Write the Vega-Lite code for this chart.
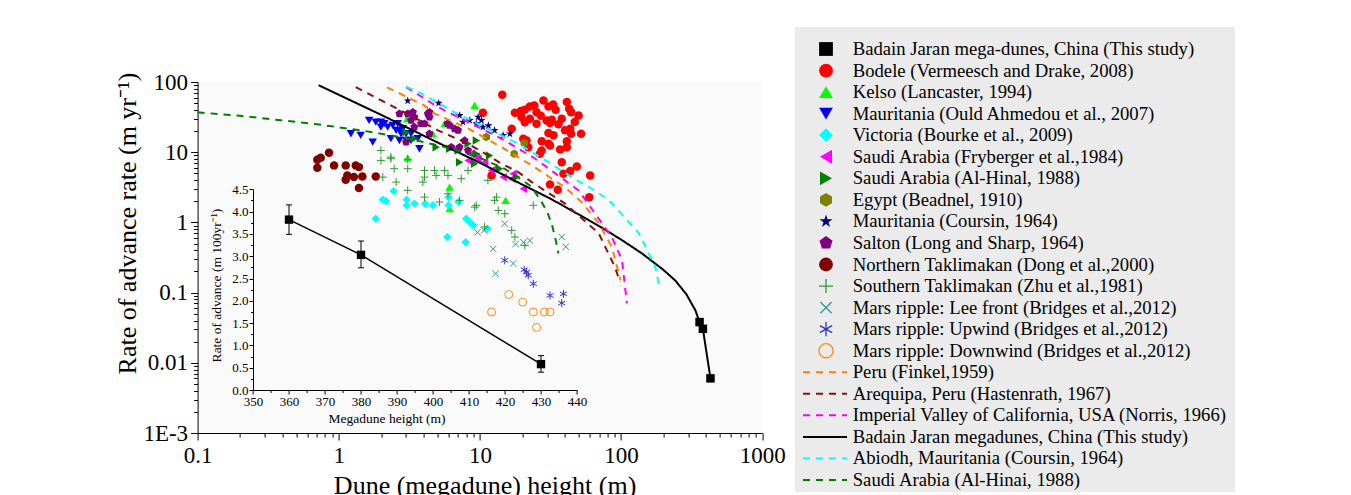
{
"$schema": "https://vega.github.io/schema/vega-lite/v6.json",
"autosize": {"type": "none"},
"padding": {"left": 197.6, "top": 82, "right": 588.8, "bottom": 62},
"width": 564.6,
"height": 351,
"background": "white",
"config": {
  "view": {"stroke": null, "fill": "#fafafa"},
  "font": "Liberation Serif",
  "axis": {"grid": false, "domainColor": "#000000", "tickColor": "#000000", "labelColor": "#000000", "titleColor": "#000000", "titleFontWeight": "normal", "labelFont": "Liberation Serif", "titleFont": "Liberation Serif", "zindex": 1, "labelOverlap": false, "labelFlush": false, "labelBound": false, "domainWidth": 1, "tickWidth": 1}
},
"datasets": {
  "pts": [
    {"s":"BJ","h":360,"r":0.038},{"s":"BJ","h":380,"r":0.0305},{"s":"BJ","h":430,"r":0.006},
    {"s":"Bodele","h":14.4,"r":65.9},{"s":"Bodele","h":17.7,"r":36.5},{"s":"Bodele","h":19.5,"r":38.5},{"s":"Bodele","h":20.8,"r":40.3},{"s":"Bodele","h":22.6,"r":44.9},{"s":"Bodele","h":24.3,"r":46.4},{"s":"Bodele","h":25.2,"r":37.2},{"s":"Bodele","h":28.2,"r":54.7},{"s":"Bodele","h":30.6,"r":44.9},{"s":"Bodele","h":34.4,"r":40.3},{"s":"Bodele","h":41.3,"r":51.7},{"s":"Bodele","h":42.9,"r":41.7},{"s":"Bodele","h":50,"r":33.4},{"s":"Bodele","h":44.3,"r":37.2},{"s":"Bodele","h":19.7,"r":31.6},{"s":"Bodele","h":20.8,"r":26.8},{"s":"Bodele","h":22.6,"r":30},{"s":"Bodele","h":25.2,"r":25.5},{"s":"Bodele","h":29.7,"r":28.4},{"s":"Bodele","h":32.3,"r":29},{"s":"Bodele","h":38,"r":30},{"s":"Bodele","h":40.1,"r":20.5},{"s":"Bodele","h":43.6,"r":21.6},{"s":"Bodele","h":44.3,"r":18.3},{"s":"Bodele","h":52.1,"r":18.3},{"s":"Bodele","h":30.6,"r":18.7},{"s":"Bodele","h":33.2,"r":17.4},{"s":"Bodele","h":27.4,"r":14.3},{"s":"Bodele","h":30.6,"r":13.2},{"s":"Bodele","h":41.3,"r":14.3},{"s":"Bodele","h":41.3,"r":11.8},{"s":"Bodele","h":37,"r":10.9},{"s":"Bodele","h":27.4,"r":10.6},{"s":"Bodele","h":26.6,"r":9.52},{"s":"Bodele","h":22,"r":11.8},{"s":"Bodele","h":20.3,"r":15.6},{"s":"Bodele","h":21.4,"r":14.7},{"s":"Bodele","h":38,"r":7.2},{"s":"Bodele","h":48.6,"r":6.28},{"s":"Bodele","h":43.6,"r":5.38},{"s":"Bodele","h":60.4,"r":4.67},{"s":"Bodele","h":39.1,"r":4.94},{"s":"Bodele","h":31.4,"r":3.48},{"s":"Bodele","h":35.6,"r":2.92},{"s":"Bodele","h":59.5,"r":2.29},{"s":"Bodele","h":31.4,"r":12.5},{"s":"Bodele","h":16.8,"r":21.6},{"s":"Bodele","h":10.5,"r":36.5},{"s":"Bodele","h":12.1,"r":4.67},{"s":"Bodele","h":36,"r":25},{"s":"Bodele","h":47,"r":27},{"s":"Bodele","h":27,"r":33},{"s":"Bodele","h":33,"r":48},{"s":"Bodele","h":31.4,"r":26.1},
    {"s":"Kelso","h":9.17,"r":46.4},{"s":"Kelso","h":5.62,"r":25.5},{"s":"Kelso","h":4.64,"r":18.3},{"s":"Kelso","h":3.08,"r":8.3},{"s":"Kelso","h":6.1,"r":3.18},{"s":"Kelso","h":6.1,"r":1.57},{"s":"Kelso","h":15.2,"r":2.06},{"s":"Kelso","h":3.05,"r":30},
    {"s":"MauOA","h":1.64,"r":28.4},{"s":"MauOA","h":1.83,"r":26.8},{"s":"MauOA","h":1.99,"r":26.8},{"s":"MauOA","h":2.1,"r":25.5},{"s":"MauOA","h":2.22,"r":22.8},{"s":"MauOA","h":2.41,"r":24.1},{"s":"MauOA","h":2.62,"r":25.5},{"s":"MauOA","h":2.69,"r":20.5},{"s":"MauOA","h":2.84,"r":21.6},{"s":"MauOA","h":3.0,"r":18.3},{"s":"MauOA","h":3.25,"r":18.3},{"s":"MauOA","h":1.22,"r":18.3},{"s":"MauOA","h":1.43,"r":17.4},{"s":"MauOA","h":1.74,"r":13.9},{"s":"MauOA","h":2.34,"r":15.6},{"s":"MauOA","h":2.69,"r":14.7},{"s":"MauOA","h":3.0,"r":14.7},{"s":"MauOA","h":3.63,"r":15.6},{"s":"MauOA","h":3.73,"r":11.2},{"s":"MauOA","h":1.99,"r":22.8},{"s":"MauOA","h":2.55,"r":20.5},{"s":"MauOA","h":3.25,"r":14.7},{"s":"MauOA","h":2.76,"r":18.3},
    {"s":"Victoria","h":2.05,"r":2.11},{"s":"Victoria","h":2.16,"r":2.01},{"s":"Victoria","h":2.45,"r":2.79},{"s":"Victoria","h":3.03,"r":2.11},{"s":"Victoria","h":3.03,"r":1.75},{"s":"Victoria","h":1.83,"r":1.13},{"s":"Victoria","h":3.44,"r":1.85},{"s":"Victoria","h":4.1,"r":1.85},{"s":"Victoria","h":4.65,"r":1.75},{"s":"Victoria","h":5.87,"r":0.62},{"s":"Victoria","h":6.0,"r":2.29},{"s":"Victoria","h":6.0,"r":1.75},{"s":"Victoria","h":7.06,"r":1.95},{"s":"Victoria","h":8.0,"r":1.13},{"s":"Victoria","h":8.46,"r":1.01},{"s":"Victoria","h":8.95,"r":0.91},{"s":"Victoria","h":11.3,"r":0.81},{"s":"Victoria","h":7.92,"r":0.52},
    {"s":"SaudiF","h":8.24,"r":7.64},{"s":"SaudiF","h":9.71,"r":8.08},{"s":"SaudiF","h":10.8,"r":7.2},{"s":"SaudiF","h":12.7,"r":5.82},{"s":"SaudiF","h":14.6,"r":4.42},{"s":"SaudiF","h":16.8,"r":4.19},{"s":"SaudiF","h":17.2,"r":4.94},{"s":"SaudiF","h":8.7,"r":9.52},{"s":"SaudiF","h":12.1,"r":5.5},{"s":"SaudiF","h":20.3,"r":3.02},{"s":"SaudiF","h":9.44,"r":8.5},
    {"s":"SaudiAH","h":3.0,"r":19.3},{"s":"SaudiAH","h":3.43,"r":15.6},{"s":"SaudiAH","h":4.9,"r":11.8},{"s":"SaudiAH","h":6.1,"r":11.2},{"s":"SaudiAH","h":7.0,"r":10.6},{"s":"SaudiAH","h":7.18,"r":7.2},{"s":"SaudiAH","h":8.24,"r":13.2},{"s":"SaudiAH","h":9.44,"r":9.52},{"s":"SaudiAH","h":9.17,"r":6.86},{"s":"SaudiAH","h":9.44,"r":14.7},{"s":"SaudiAH","h":11.7,"r":9.0},{"s":"SaudiAH","h":13.8,"r":5.82},{"s":"SaudiAH","h":18.2,"r":4.42},
    {"s":"Egypt","h":11.1,"r":16.4},{"s":"Egypt","h":20.6,"r":13.5},{"s":"Egypt","h":17.5,"r":9.5},
    {"s":"MauC","h":3.08,"r":54},{"s":"MauC","h":5.1,"r":50},{"s":"MauC","h":7.18,"r":33.4},{"s":"MauC","h":7.59,"r":26.8},{"s":"MauC","h":8.46,"r":28.4},{"s":"MauC","h":9.44,"r":25.5},{"s":"MauC","h":9.71,"r":31.6},{"s":"MauC","h":10.25,"r":28.4},{"s":"MauC","h":10.5,"r":22.8},{"s":"MauC","h":12.7,"r":20.5},{"s":"MauC","h":14.6,"r":17.4},{"s":"MauC","h":16.3,"r":18.3},{"s":"MauC","h":11.5,"r":24},
    {"s":"Salton","h":2.69,"r":35.3},{"s":"Salton","h":3.08,"r":35.3},{"s":"Salton","h":3.35,"r":37.2},{"s":"Salton","h":3.43,"r":31.6},{"s":"Salton","h":3.25,"r":28.4},{"s":"Salton","h":3.43,"r":22.8},{"s":"Salton","h":4.28,"r":35.3},{"s":"Salton","h":4.39,"r":31.6},{"s":"Salton","h":4.05,"r":25.5},{"s":"Salton","h":4.39,"r":18.3},{"s":"Salton","h":3.0,"r":13.9},{"s":"Salton","h":4.39,"r":37.2},{"s":"Salton","h":3.83,"r":25.5},{"s":"Salton","h":6.1,"r":24.1},{"s":"Salton","h":6.62,"r":21.6},{"s":"Salton","h":7.0,"r":20.5},{"s":"Salton","h":7.18,"r":11.8},{"s":"Salton","h":8.24,"r":10.6},{"s":"Salton","h":6.27,"r":11.8},{"s":"Salton","h":7.8,"r":14.7},{"s":"Salton","h":5.9,"r":25.5},
    {"s":"NTak","h":0.853,"r":9.84},{"s":"NTak","h":0.745,"r":8.33},{"s":"NTak","h":0.705,"r":7.82},{"s":"NTak","h":0.705,"r":6.01},{"s":"NTak","h":0.926,"r":6.49},{"s":"NTak","h":1.12,"r":6.49},{"s":"NTak","h":1.32,"r":6.49},{"s":"NTak","h":1.39,"r":6.13},{"s":"NTak","h":1.15,"r":4.67},{"s":"NTak","h":1.28,"r":4.42},{"s":"NTak","h":1.47,"r":4.52},{"s":"NTak","h":1.83,"r":4.52},{"s":"NTak","h":1.39,"r":3.08},{"s":"NTak","h":1.12,"r":4.06},
    {"s":"STak","h":1.99,"r":10.6},{"s":"STak","h":1.99,"r":7.64},{"s":"STak","h":2.34,"r":8.08},{"s":"STak","h":2.47,"r":5.82},{"s":"STak","h":3.08,"r":5.82},{"s":"STak","h":4.05,"r":5.5},{"s":"STak","h":4.77,"r":5.5},{"s":"STak","h":5.62,"r":5.5},{"s":"STak","h":5.94,"r":4.67},{"s":"STak","h":7.38,"r":4.19},{"s":"STak","h":4.05,"r":4.42},{"s":"STak","h":2.05,"r":4.42},{"s":"STak","h":2.55,"r":3.75},{"s":"STak","h":3.08,"r":2.86},{"s":"STak","h":4.05,"r":2.29},{"s":"STak","h":2.34,"r":8.5},{"s":"STak","h":5.94,"r":2.56},{"s":"STak","h":4.9,"r":4.67},{"s":"STak","h":8.24,"r":5.5},{"s":"STak","h":11.4,"r":3.97},{"s":"STak","h":5.17,"r":1.95},{"s":"STak","h":7.18,"r":2.06},{"s":"STak","h":9.19,"r":1.65},{"s":"STak","h":12.7,"r":2.06},{"s":"STak","h":13.5,"r":1.48},{"s":"STak","h":15.0,"r":1.33},{"s":"STak","h":10.8,"r":0.86},{"s":"STak","h":16.8,"r":0.77},{"s":"STak","h":23.9,"r":1.75},{"s":"STak","h":17.7,"r":0.62},{"s":"STak","h":20.8,"r":0.47},{"s":"STak","h":9.44,"r":1.75},{"s":"STak","h":13.1,"r":2.29},{"s":"STak","h":3.94,"r":3.75},{"s":"STak","h":3.08,"r":7.9},
    {"s":"MarsLee","h":10.7,"r":0.77},{"s":"MarsLee","h":12.4,"r":0.42},{"s":"MarsLee","h":12.9,"r":0.186},{"s":"MarsLee","h":15.0,"r":0.96},{"s":"MarsLee","h":17.2,"r":0.26},{"s":"MarsLee","h":17.9,"r":0.49},{"s":"MarsLee","h":20.3,"r":0.52},{"s":"MarsLee","h":22.6,"r":0.55},{"s":"MarsLee","h":38.0,"r":0.62},{"s":"MarsLee","h":40.6,"r":0.45},{"s":"MarsLee","h":9.6,"r":0.72},
    {"s":"MarsUp","h":15.0,"r":0.288},{"s":"MarsUp","h":20.6,"r":0.212},{"s":"MarsUp","h":21.4,"r":0.196},{"s":"MarsUp","h":22.0,"r":0.176},{"s":"MarsUp","h":23.9,"r":0.134},{"s":"MarsUp","h":31.4,"r":0.091},{"s":"MarsUp","h":39.1,"r":0.096},{"s":"MarsUp","h":38.0,"r":0.071},
    {"s":"MarsDown","h":12.1,"r":0.053},{"s":"MarsDown","h":16.0,"r":0.094},{"s":"MarsDown","h":20.1,"r":0.073},{"s":"MarsDown","h":23.9,"r":0.053},{"s":"MarsDown","h":25.2,"r":0.032},{"s":"MarsDown","h":28.6,"r":0.053},{"s":"MarsDown","h":31.4,"r":0.053}
  ],
  "curves": [
    {"c":"BJline","h":0.72,"r":90},{"c":"BJline","h":2,"r":34},{"c":"BJline","h":5,"r":13.8},{"c":"BJline","h":10.25,"r":6.9},{"c":"BJline","h":20,"r":3.45},{"c":"BJline","h":32,"r":2.15},{"c":"BJline","h":50,"r":1.3},{"c":"BJline","h":73,"r":0.84},{"c":"BJline","h":100,"r":0.57},{"c":"BJline","h":141,"r":0.36},{"c":"BJline","h":200,"r":0.21},{"c":"BJline","h":242,"r":0.149},{"c":"BJline","h":290,"r":0.095},{"c":"BJline","h":336,"r":0.056},{"c":"BJline","h":360,"r":0.038},{"c":"BJline","h":380,"r":0.0305},{"c":"BJline","h":430,"r":0.006},
    {"c":"Peru","h":2.2,"r":84},{"c":"Peru","h":4.03,"r":46.4},{"c":"Peru","h":4.74,"r":35.7},{"c":"Peru","h":8.24,"r":21.8},{"c":"Peru","h":14.2,"r":11.8},{"c":"Peru","h":23.3,"r":6.49},{"c":"Peru","h":39.9,"r":3.18},{"c":"Peru","h":52.7,"r":1.94},{"c":"Peru","h":70,"r":0.95},{"c":"Peru","h":86.3,"r":0.44},{"c":"Peru","h":96.3,"r":0.188},{"c":"Peru","h":99,"r":0.15},
    {"c":"Arequipa","h":1.32,"r":84.6},{"c":"Arequipa","h":2.34,"r":46.4},{"c":"Arequipa","h":2.9,"r":37.2},{"c":"Arequipa","h":5.04,"r":20.5},{"c":"Arequipa","h":8.24,"r":13.2},{"c":"Arequipa","h":11.43,"r":9.0},{"c":"Arequipa","h":14.2,"r":6.86},{"c":"Arequipa","h":18.7,"r":5.21},{"c":"Arequipa","h":23.3,"r":3.75},{"c":"Arequipa","h":39.9,"r":1.87},{"c":"Arequipa","h":69.4,"r":0.7},{"c":"Arequipa","h":90.6,"r":0.23},{"c":"Arequipa","h":98.4,"r":0.141},
    {"c":"Imperial","h":3.0,"r":84.6},{"c":"Imperial","h":5.04,"r":44},{"c":"Imperial","h":8.7,"r":25.5},{"c":"Imperial","h":14.2,"r":15.6},{"c":"Imperial","h":24.4,"r":8.2},{"c":"Imperial","h":50,"r":2.86},{"c":"Imperial","h":86.3,"r":0.61},{"c":"Imperial","h":101.6,"r":0.29},{"c":"Imperial","h":110,"r":0.07},
    {"c":"Abiodh","h":3.0,"r":86},{"c":"Abiodh","h":3.83,"r":68.9},{"c":"Abiodh","h":6.58,"r":37.2},{"c":"Abiodh","h":10.77,"r":22.8},{"c":"Abiodh","h":18.7,"r":13.2},{"c":"Abiodh","h":30.6,"r":7.2},{"c":"Abiodh","h":48.6,"r":3.97},{"c":"Abiodh","h":65.3,"r":2.86},{"c":"Abiodh","h":86.3,"r":1.87},{"c":"Abiodh","h":134,"r":0.7},{"c":"Abiodh","h":175,"r":0.23},{"c":"Abiodh","h":186,"r":0.127},
    {"c":"SaudiAHi","h":0.1,"r":37},{"c":"SaudiAHi","h":0.2,"r":33},{"c":"SaudiAHi","h":0.39,"r":28.5},{"c":"SaudiAHi","h":0.7,"r":25},{"c":"SaudiAHi","h":1.43,"r":20.5},{"c":"SaudiAHi","h":3,"r":15.9},{"c":"SaudiAHi","h":6,"r":11.5},{"c":"SaudiAHi","h":10,"r":8.3},{"c":"SaudiAHi","h":15,"r":5.8},{"c":"SaudiAHi","h":20,"r":4.0},{"c":"SaudiAHi","h":23.3,"r":3.2},{"c":"SaudiAHi","h":27.4,"r":1.95},{"c":"SaudiAHi","h":30,"r":1.4},{"c":"SaudiAHi","h":32.3,"r":0.95},{"c":"SaudiAHi","h":34.5,"r":0.55},{"c":"SaudiAHi","h":36,"r":0.36}
  ],
  "ins": [
    {"h":360,"r":3.82,"lo":3.49,"hi":4.15},
    {"h":380,"r":3.03,"lo":2.74,"hi":3.34},
    {"h":430,"r":0.58,"lo":0.4,"hi":0.77}
  ],
  "leg": [
    {"row":0,"s":"BJ","label":"Badain Jaran mega-dunes, China (This study)"},
    {"row":1,"s":"Bodele","label":"Bodele (Vermeesch and Drake, 2008)"},
    {"row":2,"s":"Kelso","label":"Kelso (Lancaster, 1994)"},
    {"row":3,"s":"MauOA","label":"Mauritania (Ould Ahmedou et al., 2007)"},
    {"row":4,"s":"Victoria","label":"Victoria (Bourke et al., 2009)"},
    {"row":5,"s":"SaudiF","label":"Saudi Arabia (Fryberger et al.,1984)"},
    {"row":6,"s":"SaudiAH","label":"Saudi Arabia (Al-Hinal, 1988)"},
    {"row":7,"s":"Egypt","label":"Egypt (Beadnel, 1910)"},
    {"row":8,"s":"MauC","label":"Mauritania (Coursin, 1964)"},
    {"row":9,"s":"Salton","label":"Salton (Long and Sharp, 1964)"},
    {"row":10,"s":"NTak","label":"Northern Taklimakan (Dong et al.,2000)"},
    {"row":11,"s":"STak","label":"Southern Taklimakan (Zhu et al.,1981)"},
    {"row":12,"s":"MarsLee","label":"Mars ripple: Lee front (Bridges et al.,2012)"},
    {"row":13,"s":"MarsUp","label":"Mars ripple: Upwind (Bridges et al.,2012)"},
    {"row":14,"s":"MarsDown","label":"Mars ripple: Downwind (Bridges et al.,2012)"},
    {"row":15,"c":"Peru","label":"Peru (Finkel,1959)"},
    {"row":16,"c":"Arequipa","label":"Arequipa, Peru (Hastenrath, 1967)"},
    {"row":17,"c":"Imperial","label":"Imperial Valley of California, USA (Norris, 1966)"},
    {"row":18,"c":"BJline","label":"Badain Jaran megadunes, China (This study)"},
    {"row":19,"c":"Abiodh","label":"Abiodh, Mauritania (Coursin, 1964)"},
    {"row":20,"c":"SaudiAHi","label":"Saudi Arabia (Al-Hinai, 1988)"}
  ]
},
"layer": [
  {
    "layer": [
      {
        "data": {"name": "pts"},
        "transform": [{"filter": "indexof(['STak','MarsLee','MarsUp','MarsDown'], datum.s) < 0"}],
        "mark": {"type": "point", "filled": true, "size": 72, "opacity": 1},
        "encoding": {
          "x": {"field": "h", "type": "quantitative", "scale": {"type": "log", "domain": [0.1, 1000], "nice": false},
            "axis": {"title": "Dune (megadune) height (m)", "orient": "bottom", "tickCount": 40, "labelOverlap": false,
              "labelExpr": "abs(log(datum.value)/LN10 - round(log(datum.value)/LN10)) < 0.001 ? format(datum.value, '~g') : ''",
              "tickSize": {"condition": {"test": "abs(log(datum.value)/LN10 - round(log(datum.value)/LN10)) < 0.001", "value": 7}, "value": 4},
              "labelFontSize": 23, "labelPadding": 4, "titleFontSize": 26, "titleX": 287, "titleY": 60, "titleBaseline": "alphabetic", "titleAlign": "center"}},
          "y": {"field": "r", "type": "quantitative", "scale": {"type": "log", "domain": [0.001, 100], "nice": false},
            "axis": {"title": "Rate of advance rate (m yr⁻¹)", "orient": "left", "tickCount": 50, "labelOverlap": false,
              "labelExpr": "abs(log(datum.value)/LN10 - round(log(datum.value)/LN10)) < 0.001 ? (datum.value < 0.0015 ? '1E-3' : format(datum.value, '~g')) : ''",
              "tickSize": {"condition": {"test": "abs(log(datum.value)/LN10 - round(log(datum.value)/LN10)) < 0.001", "value": 7}, "value": 4},
              "labelFontSize": 23, "labelPadding": 3, "titleFontSize": 26, "titleX": -70, "titleY": 141, "titleBaseline": "middle", "titleAngle": -90, "titleAlign": "center"}},
          "color": {"field": "s", "type": "nominal", "legend": null,
            "scale": {"domain": ["BJ","Bodele","Kelso","MauOA","Victoria","SaudiF","SaudiAH","Egypt","MauC","Salton","NTak","STak","MarsLee","MarsUp","MarsDown"],
              "range": ["#000000","#ff0000","#00ff00","#0000ff","#00ffff","#ff00ff","#008000","#808000","#000080","#800080","#800000","#339933","#339999","#3333cc","#ff8c1a"]}},
          "shape": {"field": "s", "type": "nominal", "legend": null,
            "scale": {"domain": ["BJ","Bodele","Kelso","MauOA","Victoria","SaudiF","SaudiAH","Egypt","MauC","Salton","NTak","STak","MarsLee","MarsUp","MarsDown"],
              "range": ["square","circle","triangle-up","triangle-down","diamond","triangle-left","triangle-right",
                "M0,-1L0.866,-0.5L0.866,0.5L0,1L-0.866,0.5L-0.866,-0.5Z",
                "M0,-1L0.224,-0.309L0.951,-0.309L0.363,0.118L0.588,0.809L0,0.382L-0.588,0.809L-0.363,0.118L-0.951,-0.309L-0.224,-0.309Z",
                "M0,-1L0.951,-0.309L0.588,0.809L-0.588,0.809L-0.951,-0.309Z",
                "circle",
                "M-1,0L1,0M0,-1L0,1",
                "M-0.8,-0.8L0.8,0.8M-0.8,0.8L0.8,-0.8",
                "M0,-1L0,1M-0.866,-0.5L0.866,0.5M-0.866,0.5L0.866,-0.5",
                "circle"]}}
        }
      },
      {
        "data": {"name": "pts"},
        "transform": [{"filter": "indexof(['STak','MarsLee','MarsUp','MarsDown'], datum.s) >= 0"}],
        "mark": {"type": "point", "filled": false, "size": 64, "strokeWidth": 1, "opacity": 1},
        "encoding": {
          "x": {"field": "h", "type": "quantitative"},
          "y": {"field": "r", "type": "quantitative"},
          "color": {"field": "s", "type": "nominal", "legend": null},
          "shape": {"field": "s", "type": "nominal", "legend": null}
        }
      },
      {
        "data": {"name": "curves"},
        "mark": {"type": "line", "strokeWidth": 2},
        "encoding": {
          "x": {"field": "h", "type": "quantitative"},
          "y": {"field": "r", "type": "quantitative"},
          "stroke": {"field": "c", "type": "nominal", "legend": null,
            "scale": {"domain": ["Peru","Arequipa","Imperial","BJline","Abiodh","SaudiAHi"], "range": ["#ff8000","#8b1010","#ff00ff","#000000","#00ffff","#008000"]}},
          "strokeDash": {"field": "c", "type": "nominal", "legend": null,
            "scale": {"domain": ["Peru","Arequipa","Imperial","BJline","Abiodh","SaudiAHi"], "range": [[7,6],[7,6],[7,6],[1,0],[7,6],[7,6]]}}
        }
      }
    ]
  },
  {
    "layer": [
      {
        "data": {"name": "ins"},
        "mark": {"type": "line", "color": "#000000", "strokeWidth": 1.5},
        "encoding": {
          "x": {"field": "h", "type": "quantitative", "title": "Megadune height (m)",
            "scale": {"domain": [350, 440], "range": [55.4, 379.4], "nice": false, "zero": false},
            "axis": {"orient": "bottom", "offset": -43, "labelOverlap": false, "tickCount": 100, "values": [350,355,360,365,370,375,380,385,390,395,400,405,410,415,420,425,430,435,440],
              "labelExpr": "datum.value % 10 == 0 ? datum.label : ''",
              "tickSize": {"condition": {"test": "datum.value % 10 == 0", "value": 4}, "value": 2.5},
              "labelFontSize": 13, "labelPadding": 1, "titleFontSize": 13.5, "titleX": 189, "titleY": 28, "titleBaseline": "middle", "titleAlign": "center"}},
          "y": {"field": "r", "type": "quantitative", "title": "Rate of advance (m 100yr⁻¹)",
            "scale": {"domain": [0, 4.5], "range": [308, 107.3], "nice": false, "zero": false},
            "axis": {"orient": "left", "offset": -55.4, "labelOverlap": false, "tickCount": 100, "values": [0,0.25,0.5,0.75,1,1.25,1.5,1.75,2,2.25,2.5,2.75,3,3.25,3.5,3.75,4,4.25,4.5],
              "labelExpr": "round(datum.value * 4) % 2 == 0 ? format(datum.value, '.1f') : ''",
              "tickSize": {"condition": {"test": "round(datum.value * 4) % 2 == 0", "value": 4}, "value": 2.5},
              "labelFontSize": 13, "labelPadding": 1, "titleFontSize": 13.5, "titleX": -37, "titleY": 203, "titleBaseline": "middle", "titleAngle": -90, "titleAlign": "center"}}
        }
      },
      {
        "data": {"name": "ins"},
        "mark": {"type": "rule", "color": "#000000", "strokeWidth": 1},
        "encoding": {
          "x": {"field": "h", "type": "quantitative", "title": "Megadune height (m)"},
          "y": {"field": "lo", "type": "quantitative", "title": "Rate of advance (m 100yr⁻¹)"},
          "y2": {"field": "hi"}
        }
      },
      {
        "data": {"name": "ins"},
        "transform": [{"fold": ["lo", "hi"], "as": ["k", "v"]}],
        "mark": {"type": "tick", "orient": "horizontal", "color": "#000000", "size": 6, "thickness": 1, "opacity": 1},
        "encoding": {
          "x": {"field": "h", "type": "quantitative", "title": "Megadune height (m)"},
          "y": {"field": "v", "type": "quantitative", "title": "Rate of advance (m 100yr⁻¹)"}
        }
      },
      {
        "data": {"name": "ins"},
        "mark": {"type": "point", "shape": "square", "filled": true, "color": "#000000", "size": 70, "opacity": 1},
        "encoding": {
          "x": {"field": "h", "type": "quantitative", "title": "Megadune height (m)"},
          "y": {"field": "r", "type": "quantitative", "title": "Rate of advance (m 100yr⁻¹)"}
        }
      }
    ]
  },
  {
    "layer": [
      {
        "data": {"values": [{}]},
        "mark": {"type": "rect", "fill": "#ebebeb"},
        "encoding": {
          "x": {"datum": 0, "type": "quantitative", "scale": {"domain": [0, 440], "range": [597.4, 1037.4], "nice": false, "zero": false}, "axis": null},
          "x2": {"datum": 440},
          "y": {"datum": -1.02, "type": "quantitative", "scale": {"domain": [0, 20], "range": [-33, 398], "nice": false, "zero": false}, "axis": null},
          "y2": {"datum": 20.56}
        }
      },
      {
        "data": {"name": "leg"},
        "transform": [{"filter": "datum.s && indexof(['STak','MarsLee','MarsUp','MarsDown'], datum.s) < 0"}],
        "mark": {"type": "point", "filled": true, "size": 190, "opacity": 1},
        "encoding": {
          "x": {"datum": 31, "type": "quantitative"},
          "y": {"field": "row", "type": "quantitative"},
          "color": {"field": "s", "type": "nominal", "legend": null},
          "shape": {"field": "s", "type": "nominal", "legend": null}
        }
      },
      {
        "data": {"name": "leg"},
        "transform": [{"filter": "datum.s && indexof(['STak','MarsLee','MarsUp','MarsDown'], datum.s) >= 0"}],
        "mark": {"type": "point", "filled": false, "size": 200, "strokeWidth": 1.3, "opacity": 1},
        "encoding": {
          "x": {"datum": 31, "type": "quantitative"},
          "y": {"field": "row", "type": "quantitative"},
          "color": {"field": "s", "type": "nominal", "legend": null},
          "shape": {"field": "s", "type": "nominal", "legend": null}
        }
      },
      {
        "data": {"name": "leg"},
        "transform": [{"filter": "datum.c"}],
        "mark": {"type": "rule", "strokeWidth": 2},
        "encoding": {
          "x": {"datum": 8, "type": "quantitative"},
          "x2": {"datum": 52},
          "y": {"field": "row", "type": "quantitative"},
          "stroke": {"field": "c", "type": "nominal", "legend": null},
          "strokeDash": {"field": "c", "type": "nominal", "legend": null}
        }
      },
      {
        "data": {"name": "leg"},
        "mark": {"type": "text", "align": "left", "baseline": "middle", "fontSize": 18.7, "font": "Liberation Serif", "color": "#000000"},
        "encoding": {
          "x": {"datum": 57.7, "type": "quantitative"},
          "y": {"field": "row", "type": "quantitative"},
          "text": {"field": "label"}
        }
      }
    ]
  }
],
"resolve": {"scale": {"x": "independent", "y": "independent"}}
}
